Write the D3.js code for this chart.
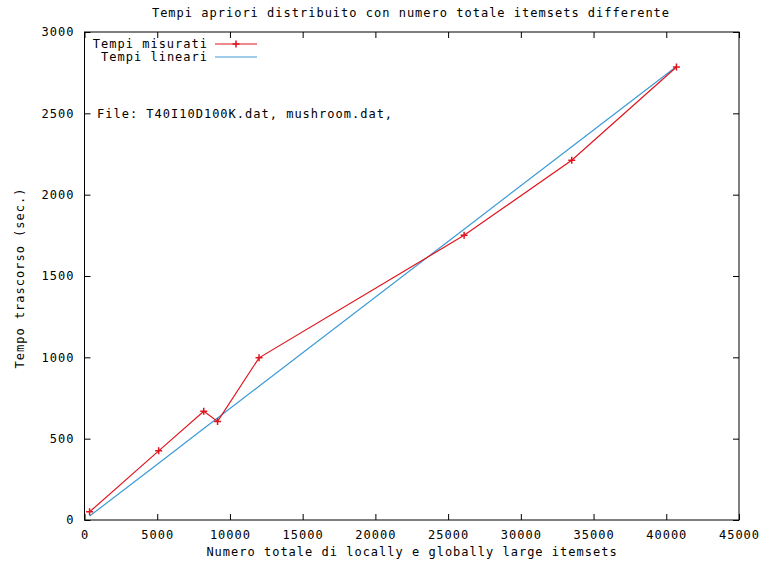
<!DOCTYPE html>
<html>
<head>
<meta charset="utf-8">
<script src="https://cdn.jsdelivr.net/npm/d3@7"></script>
<style>
  body { margin: 0; background: #fff; }
  text { font-family: "DejaVu Sans Mono", monospace; font-size: 12px; letter-spacing: 1px; fill: #000; }
</style>
</head>
<body>
<svg id="chart" width="765" height="567"></svg>
<script>
// numero totale di itemsets (asse x)
const itemsets = [350, 5100, 8200, 9150, 12000, 26100, 33500, 40700];
const tempiMisurati = [50, 425, 668, 606, 997, 1750, 2212, 2785];
const tempiLineari = [24, 349, 562, 627, 822, 1788, 2295, 2788];
const xTicks = [0, 5000, 10000, 15000, 20000, 25000, 30000, 35000, 40000, 45000];
const yTicks = [0, 500, 1000, 1500, 2000, 2500, 3000];

const svg = d3.select('#chart');
const margin = { top: 32, right: 26, bottom: 47, left: 84.5 };
const width = 765, height = 567;
const tickLen = 6;

const x = d3.scaleLinear().domain([0, 45000]).range([margin.left, width - margin.right]);
const y = d3.scaleLinear().domain([0, 3000]).range([height - margin.bottom, margin.top]);

const colors = { misurati: '#e0141e', lineari: '#3c9bd6' };

// cornice
svg.append('rect')
    .attr('x', x(0)).attr('y', y(3000))
    .attr('width', x(45000) - x(0)).attr('height', y(0) - y(3000))
    .attr('fill', 'none').attr('stroke', '#000').attr('stroke-width', 1);

// assi: tick verso l'interno su tutti i lati
const axisBottom = d3.axisBottom(x).tickValues(xTicks).tickSize(-tickLen).tickPadding(10).tickFormat(d3.format('d'));
const axisTop = d3.axisTop(x).tickValues(xTicks).tickSize(-tickLen).tickFormat('');
const axisLeft = d3.axisLeft(y).tickValues(yTicks).tickSize(-tickLen).tickPadding(10).tickFormat(d3.format('d'));
const axisRight = d3.axisRight(y).tickValues(yTicks).tickSize(-tickLen).tickFormat('');

function styleAxis(g) {
    g.select('.domain').remove();
    g.selectAll('.tick line').attr('stroke', '#000');
    g.selectAll('.tick text').attr('font-family', null).attr('font-size', null).attr('fill', '#000');
}

svg.append('g').attr('transform', `translate(0,${y(0)})`).call(axisBottom).call(styleAxis);
svg.append('g').attr('transform', `translate(0,${y(3000)})`).call(axisTop).call(styleAxis);
svg.append('g').attr('transform', `translate(${x(0)},0)`).call(axisLeft).call(styleAxis);
svg.append('g').attr('transform', `translate(${x(45000)},0)`).call(axisRight).call(styleAxis);

// linee
const line = d3.line().x(d => x(d[0])).y(d => y(d[1]));
const plusShape = 'M-3.5,0H3.5M0,-3.5V3.5';

svg.append('path')
    .datum(itemsets.map((v, i) => [v, tempiLineari[i]]))
    .attr('d', line)
    .attr('fill', 'none')
    .attr('stroke', colors.lineari)
    .attr('stroke-width', 1.2);

const misurati = itemsets.map((v, i) => [v, tempiMisurati[i]]);

svg.append('path')
    .datum(misurati)
    .attr('d', line)
    .attr('fill', 'none')
    .attr('stroke', colors.misurati)
    .attr('stroke-width', 1.2);

svg.selectAll('path.marker')
    .data(misurati)
    .enter()
    .append('path')
    .attr('class', 'marker')
    .attr('d', plusShape)
    .attr('transform', d => `translate(${x(d[0])},${y(d[1])})`)
    .attr('stroke', colors.misurati)
    .attr('stroke-width', 1.5);

// titolo ed etichette
svg.append('text')
    .attr('x', 411).attr('y', 17)
    .attr('text-anchor', 'middle')
    .text('Tempi apriori distribuito con numero totale itemsets differente');

svg.append('text')
    .attr('x', 412).attr('y', 556)
    .attr('text-anchor', 'middle')
    .text('Numero totale di locally e globally large itemsets');

svg.append('text')
    .attr('transform', 'translate(24,278) rotate(-90)')
    .attr('text-anchor', 'middle')
    .text('Tempo trascorso (sec.)');

svg.append('text')
    .attr('x', 97).attr('y', 118)
    .text('File: T40I10D100K.dat, mushroom.dat,');

// legenda
const legend = [
    { label: 'Tempi misurati', color: colors.misurati, marker: true },
    { label: 'Tempi lineari', color: colors.lineari, marker: false }
];

const lg = svg.selectAll('g.legend')
    .data(legend)
    .enter()
    .append('g')
    .attr('class', 'legend')
    .attr('transform', (d, i) => `translate(0,${44 + i * 13})`);

lg.append('text')
    .attr('x', 208).attr('y', 4)
    .attr('text-anchor', 'end')
    .text(d => d.label);

lg.append('line')
    .attr('x1', 215).attr('x2', 257)
    .attr('stroke', d => d.color)
    .attr('stroke-width', 1.2);

lg.filter(d => d.marker)
    .append('path')
    .attr('d', plusShape)
    .attr('transform', 'translate(236,0)')
    .attr('stroke', d => d.color)
    .attr('stroke-width', 1.5);
</script>
</body>
</html>
